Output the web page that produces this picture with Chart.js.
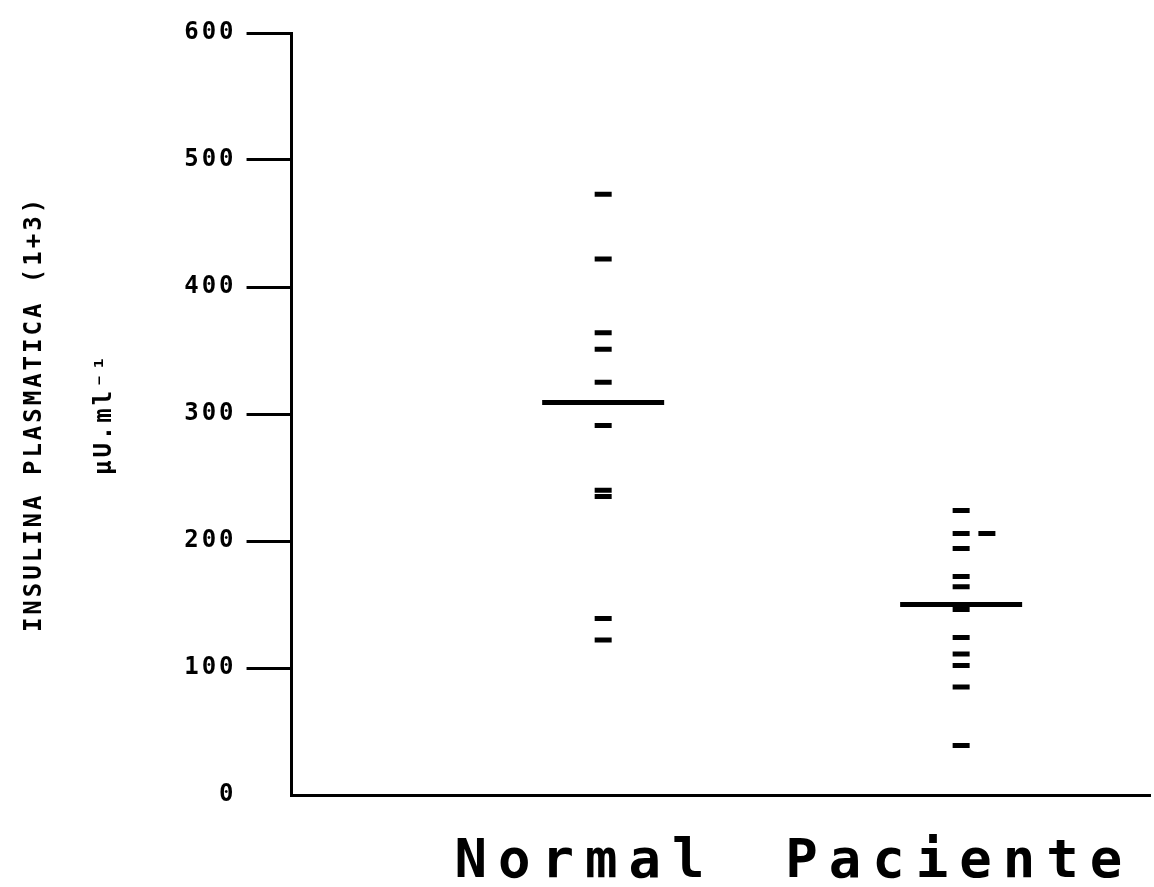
<!DOCTYPE html>
<html>
<head>
<meta charset="utf-8">
<script src="https://cdn.jsdelivr.net/npm/chart.js@4.4.1/dist/chart.umd.min.js"></script>
<style>
  html, body { margin: 0; padding: 0; background: #fff; }
  #wrap { width: 1154px; height: 887px; }
</style>
</head>
<body>
<div id="wrap"><canvas id="insulinChart"></canvas></div>
<script>
// groups and where they sit on the horizontal scale (0..10)
var categories = ['Normal', 'Paciente'];
var categoryPos = [3.36, 7.72];

// individual values (uU/ml)
var normalValues = [473, 422, 364, 351, 325, 291, 240, 235, 139, 122];
var normalX = [3.63, 3.63, 3.63, 3.63, 3.63, 3.63, 3.63, 3.63, 3.63, 3.63];
var pacienteValues = [224, 206, 206, 194, 172, 164, 146, 124, 111, 102, 85, 39];
var pacienteX = [7.8, 7.8, 8.1, 7.8, 7.8, 7.8, 7.8, 7.8, 7.8, 7.8, 7.8, 7.8];

// group means
var meanValues = [309, 150];
var meanX = [3.63, 7.8];

var yTicks = [0, 100, 200, 300, 400, 500, 600];

function toPoints(xs, ys) {
  var pts = [];
  for (var i = 0; i < ys.length; i++) {
    pts.push({ x: xs[i], y: ys[i] });
  }
  return pts;
}

var monoFont = '"DejaVu Sans Mono", "Liberation Mono", monospace';

// spread letters a bit like the old plotter font, and draw the group names
var labelPlugin = {
  id: 'labelPlugin',
  beforeLayout: function (chart) { chart.ctx.letterSpacing = '3px'; },
  beforeDraw: function (chart) { chart.ctx.letterSpacing = '3px'; },
  afterDraw: function (chart) {
    var ctx = chart.ctx;
    var xScale = chart.scales.x;
    ctx.save();
    ctx.letterSpacing = '11px';
    ctx.font = 'bold 54px ' + monoFont;
    ctx.fillStyle = '#000';
    ctx.textAlign = 'center';
    ctx.textBaseline = 'alphabetic';
    for (var i = 0; i < categories.length; i++) {
      ctx.fillText(categories[i], xScale.getPixelForValue(categoryPos[i]) + 5, 877);
    }
    ctx.restore();
  }
};

var chartCtx = document.getElementById('insulinChart').getContext('2d');

var insulinChart = new Chart(chartCtx, {
  type: 'scatter',
  data: {
    datasets: [{
      label: 'Normal',
      data: toPoints(normalX, normalValues),
      pointStyle: 'line',
      radius: 8.5,
      borderWidth: 5,
      borderColor: '#000',
      backgroundColor: '#000'
    }, {
      label: 'Paciente',
      data: toPoints(pacienteX, pacienteValues),
      pointStyle: 'line',
      radius: 8.5,
      borderWidth: 5,
      borderColor: '#000',
      backgroundColor: '#000'
    }, {
      label: 'Media',
      data: toPoints(meanX, meanValues),
      pointStyle: 'line',
      radius: 61,
      borderWidth: 5,
      borderColor: '#000',
      backgroundColor: '#000'
    }]
  },
  options: {
    responsive: true,
    maintainAspectRatio: false,
    animation: false,
    layout: {
      autoPadding: false,
      padding: { left: 0, top: 33, right: 4, bottom: 84 }
    },
    plugins: {
      legend: { display: false },
      tooltip: { enabled: false }
    },
    scales: {
      x: {
        type: 'linear',
        min: 0,
        max: 10,
        ticks: { display: false },
        grid: { display: false },
        border: { display: true, color: '#000', width: 3 }
      },
      y: {
        min: 0,
        max: 600,
        afterBuildTicks: function (scale) {
          scale.ticks = yTicks.map(function (v) { return { value: v }; });
        },
        ticks: {
          color: '#000',
          padding: 10,
          font: { family: monoFont, size: 24, weight: 'bold' },
          callback: function (v) { return String(v); }
        },
        grid: {
          drawOnChartArea: false,
          drawTicks: true,
          tickLength: 45,
          tickWidth: 3,
          tickColor: function (c) { return c.tick.value === 0 ? 'rgba(0,0,0,0)' : '#000'; }
        },
        border: { display: true, color: '#000', width: 3 },
        title: {
          display: true,
          text: ['INSULINA PLASMATICA (1+3)', '\u00b5U.ml\u207b\u00b9'],
          color: '#000',
          font: { family: monoFont, size: 24, weight: 'bold', lineHeight: 2.9 },
          padding: { top: 0, bottom: 35 }
        }
      }
    }
  },
  plugins: [labelPlugin]
});
</script>
</body>
</html>
